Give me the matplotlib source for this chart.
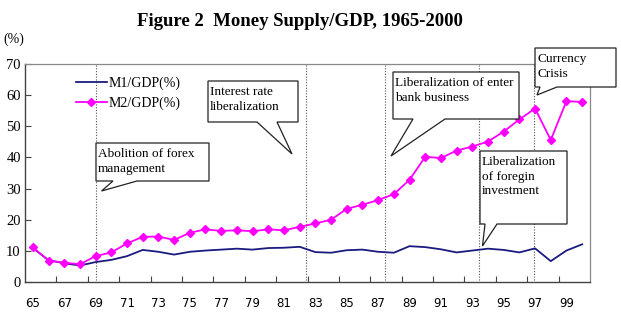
import matplotlib
matplotlib.use("Agg")
import matplotlib.pyplot as plt
from matplotlib.patches import Polygon
from matplotlib.ticker import FixedLocator, NullFormatter

years = list(range(1965, 2001))
m1 = [10.9, 7.0, 6.0, 5.3, 6.4, 7.1, 8.3, 10.3, 9.7, 8.8, 9.7, 10.1,
      10.4, 10.7, 10.4, 10.9, 11.0, 11.3, 9.6, 9.4, 10.2, 10.4, 9.7, 9.4,
      11.5, 11.2, 10.5, 9.5, 10.1, 10.7, 10.3, 9.5, 10.8, 6.7, 10.1, 12.1]
m2 = [11.1, 6.9, 6.2, 5.7, 8.3, 9.5, 12.4, 14.5, 14.6, 13.5, 15.8, 16.9,
      16.4, 16.6, 16.3, 16.9, 16.6, 17.7, 18.8, 20.0, 23.5, 24.8, 26.3, 28.2,
      32.8, 40.2, 39.8, 42.2, 43.5, 45.1, 48.3, 52.2, 55.7, 45.6, 58.1, 57.8]
tick_labels = ["65", "67", "69", "71", "73", "75", "77", "79", "81", "83",
               "85", "87", "89", "91", "93", "95", "97", "99"]
event_years = [1969.04, 1982.4, 1987.45, 1993.44, 1996.92]
callouts = [
    ("Abolition of forex\nmanagement", (96, 143, 209, 181), (113, 137), (101.5, 191)),
    ("Interest rate\nliberalization", (208, 81, 298, 122), (257, 277), (292, 154)),
    ("Liberalization of enter\nbank business", (393, 72, 519, 119), (413, 445), (391, 156)),
    ("Liberalization\nof foregin\ninvestment", (480, 151, 567, 224), (485, 497), (482.5, 246)),
    ("Currency\nCrisis", (535, 48, 616, 87), (540, 557), (537, 95)),
]

W, H = 621, 314
fig = plt.figure(figsize=(W / 100, H / 100), dpi=100)
def fx(px): return px / W
def fy(py): return 1 - py / H

ax = fig.add_axes([fx(25), fy(282), fx(590) - fx(25), fy(64) - fy(282)])
ax.plot(years, m1, color="#1a1a80", lw=1.3, label="M1/GDP(%)", zorder=3)
ax.plot(years, m2, color="#ff00ff", lw=1.3, marker="D", ms=4.5,
        label="M2/GDP(%)", zorder=4)
for ey in event_years:
    ax.axvline(ey, ymin=0.01, ymax=1, color="#555555", lw=0.8, ls=(0, (1, 1.5)), zorder=2)

ax.set_xlim(1964.5, 2000.5)
ax.set_ylim(0, 70)
ax.set_yticks(range(0, 71, 10))
ax.set_yticklabels([str(v) for v in range(0, 71, 10)], family="Liberation Serif", fontsize=10.5)
ax.xaxis.set_major_locator(FixedLocator(years[::2]))
ax.set_xticklabels(tick_labels, family="DejaVu Sans", fontsize=8.5)
ax.xaxis.set_minor_locator(FixedLocator([1966.5 + 2 * i for i in range(17)]))
ax.xaxis.set_minor_formatter(NullFormatter())
ax.tick_params(axis="x", which="major", length=0, pad=11)
ax.tick_params(axis="x", which="minor", direction="in", length=4, width=0.8, color="#444444")
ax.tick_params(axis="y", direction="in", length=4, width=0.8, pad=3, color="#444444")
for s in ["left", "bottom"]:
    ax.spines[s].set_color("#444444")
    ax.spines[s].set_linewidth(1.0)
for s in ["top", "right"]:
    ax.spines[s].set_color("#888888")
    ax.spines[s].set_linewidth(0.9)

leg = ax.legend(loc="upper left", bbox_to_anchor=(fx(76), fy(77)),
                bbox_transform=fig.transFigure, frameon=False,
                prop={"family": "Liberation Serif", "size": 10},
                handlelength=2.2, handletextpad=0.15, labelspacing=0.45,
                borderpad=0, borderaxespad=0)

for text, (L, T, R, B), (b1, b2), (tx, ty) in callouts:
    pts = [(L, T), (R, T), (R, B), (b2, B), (tx, ty), (b1, B), (L, B)]
    poly = Polygon([(fx(x), fy(y)) for x, y in pts], closed=True,
                   transform=fig.transFigure, facecolor="white",
                   edgecolor="#222222", lw=0.9, zorder=10)
    fig.add_artist(poly)
    fig.text(fx(L + 2), fy(T + 5), text, ha="left", va="top",
             family="Liberation Serif", fontsize=9.5, linespacing=1.3, zorder=11)

fig.text(fx(300), fy(22), "Figure 2  Money Supply/GDP, 1965-2000", ha="center", va="center",
         family="Liberation Serif", fontweight="bold", fontsize=13.5)
fig.text(fx(14), fy(39), "(%)", ha="center", va="center", family="Liberation Serif", fontsize=10)

fig.savefig("out.png", dpi=100)
